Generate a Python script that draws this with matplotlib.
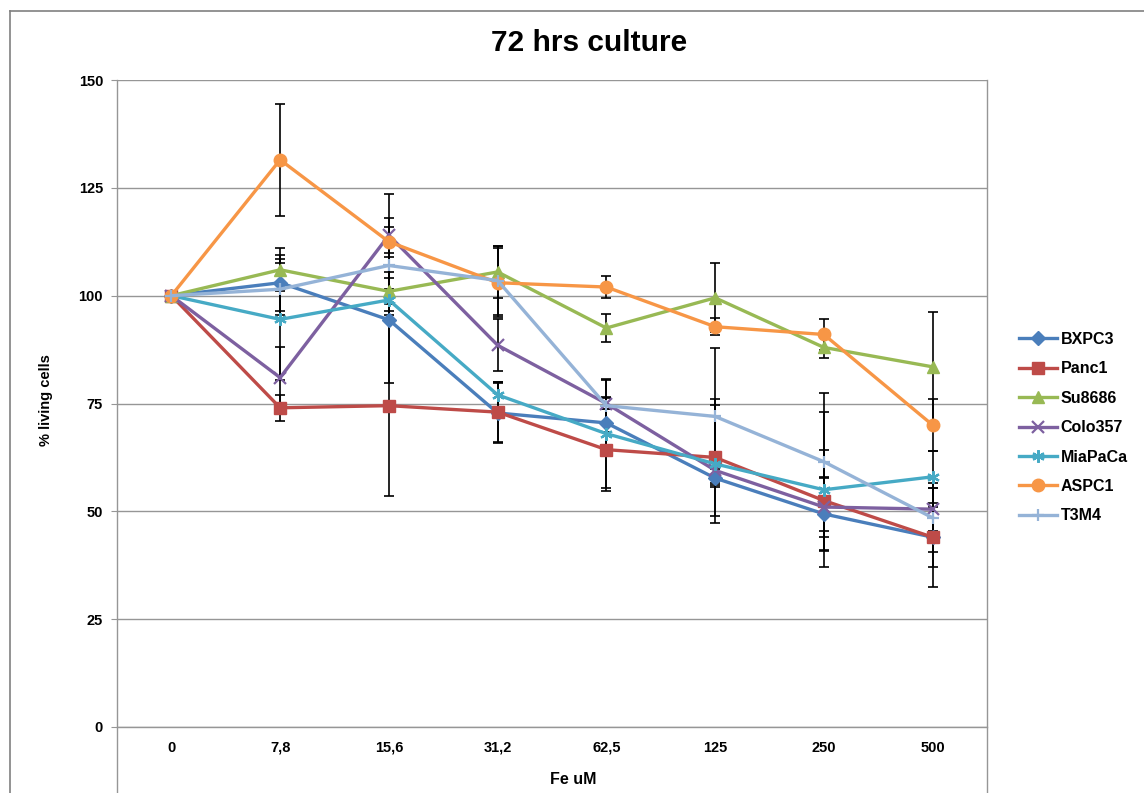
import numpy as np
import matplotlib
matplotlib.use("Agg")
import matplotlib.pyplot as plt
from matplotlib.lines import Line2D
from matplotlib import font_manager

# ---------------- data ----------------
categories = ["0", "7,8", "15,6", "31,2", "62,5", "125", "250", "500"]

bxpc3 = [100, 103.0, 94.4, 72.8, 70.5, 57.7, 49.4, 44.0]
panc1 = [100, 74.0, 74.5, 73.0, 64.3, 62.5, 52.5, 44.0]
su8686 = [100, 106.0, 101.0, 105.5, 92.5, 99.5, 88.0, 83.5]
colo357 = [100, 81.0, 114.0, 88.5, 75.0, 59.5, 51.0, 50.5]
miapaca = [100, 94.5, 99.0, 77.0, 68.0, 61.0, 55.0, 58.0]
aspc1 = [100, 131.5, 112.5, 103.0, 102.0, 92.8, 91.0, 70.0]
t3m4 = [100, 101.5, 107.0, 103.5, 74.5, 72.0, 61.5, 48.5]

bxpc3_err = [0, 6.5, 14.6, 7.0, 6.0, 2.0, 8.4, 7.0]
panc1_err = [0, 3.0, 21.0, 7.0, 9.5, 13.5, 11.7, 11.5]
su8686_err = [0, 5.0, 4.5, 6.0, 3.2, 8.0, 2.4, 12.7]
colo357_err = [0, 7.0, 4.0, 6.0, 1.3, 3.0, 7.0, 5.0]
miapaca_err = [0, 14.0, 5.0, 3.0, 12.5, 13.7, 18.0, 6.0]
aspc1_err = [0, 13.0, 11.0, 8.0, 2.6, 2.0, 3.6, 6.0]
t3m4_err = [0, 6.0, 9.0, 8.0, 6.2, 15.9, 16.0, 8.0]

series_names = ["BXPC3", "Panc1", "Su8686", "Colo357", "MiaPaCa", "ASPC1", "T3M4"]
series_vals = [bxpc3, panc1, su8686, colo357, miapaca, aspc1, t3m4]
series_errs = [bxpc3_err, panc1_err, su8686_err, colo357_err, miapaca_err, aspc1_err, t3m4_err]

yticks = [0, 25, 50, 75, 100, 125, 150]

# ---------------- style ----------------
colors = ["#4A7EBB", "#BE4B48", "#98B954", "#7D60A0", "#46AAC5", "#F79646", "#95B3D7"]
markers = ["D", "s", "^", "x", (6, 2, 0), "o", "+"]
msizes = [7, 8.5, 8.5, 8, 9, 9, 9]

avail = {f.name for f in font_manager.fontManager.ttflist}
fam = "Liberation Sans Narrow" if "Liberation Sans Narrow" in avail else "Liberation Sans"
plt.rcParams["font.family"] = [fam, "DejaVu Sans"]

W, H = 1144, 793
fig = plt.figure(figsize=(W / 100, H / 100), dpi=100)

def fx(px):
    return px / W

def fy(py):
    return 1 - py / H

ax_l, ax_r, ax_t, ax_b = 117, 987, 80, 727
ax = fig.add_axes([fx(ax_l), fy(ax_b), fx(ax_r - ax_l), (ax_b - ax_t) / H])

x = np.arange(len(categories))
grid_c = "#969696"

for name, vals, errs in zip(series_names, series_vals, series_errs):
    ax.errorbar(x, vals, yerr=errs, fmt="none", ecolor="black", elinewidth=1.2,
                capsize=3.5, capthick=1.2, zorder=2)

for name, vals, c, m, ms in zip(series_names, series_vals, colors, markers, msizes):
    mew = 1.6 if m in ("x", "+", (6, 2, 0)) else 1.0
    ax.plot(x, vals, color=c, lw=2.4, marker=m, ms=ms, mfc=c, mec=c, mew=mew,
            label=name, zorder=3)

ax.set_xlim(-0.5, len(categories) - 0.5)
ax.set_ylim(0, 150)
ax.set_yticks(yticks)
ax.set_xticks(x)
ax.set_xticklabels(categories)
ax.yaxis.grid(True, color=grid_c, lw=1.0)
ax.set_axisbelow(True)
for s in ["top", "right", "left"]:
    ax.spines[s].set_visible(False)
ax.spines["bottom"].set_color(grid_c)
ax.spines["bottom"].set_linewidth(1.0)
ax.tick_params(axis="y", length=4, color=grid_c, pad=6, labelsize=10.5)
ax.tick_params(axis="x", length=0, pad=10, labelsize=10.5)
for lab in ax.get_xticklabels() + ax.get_yticklabels():
    lab.set_fontweight("bold")

# plot-area border lines extending below the axis
fig.add_artist(Line2D([fx(ax_l), fx(ax_l)], [fy(ax_t), fy(H)], color=grid_c, lw=1.0))
fig.add_artist(Line2D([fx(ax_r), fx(ax_r)], [fy(ax_t), fy(H)], color=grid_c, lw=1.0))
# chart border
fig.add_artist(Line2D([fx(10), fx(10)], [fy(11), fy(H)], color="#808080", lw=1.2))
fig.add_artist(Line2D([fx(10), fx(W)], [fy(11), fy(11)], color="#808080", lw=1.2))

fig.text(fx(589), fy(43), "72 hrs culture", ha="center", va="center",
         fontsize=21.5, fontweight="bold")
fig.text(fx(46), fy(400), "% living cells", ha="center", va="center",
         rotation=90, fontsize=10.5, fontweight="bold")
fig.text(fx(573), fy(780), "Fe uM", ha="center", va="center",
         fontsize=11.5, fontweight="bold")

handles, labels = ax.get_legend_handles_labels()
leg = fig.legend(handles, labels, loc="upper left", bbox_to_anchor=(fx(1019), fy(332)),
                 frameon=False, fontsize=11.5, labelspacing=0.9, handlelength=2.4,
                 handletextpad=0.2, borderaxespad=0, borderpad=0)
for t in leg.get_texts():
    t.set_fontweight("bold")

fig.savefig("out.png", dpi=100)
